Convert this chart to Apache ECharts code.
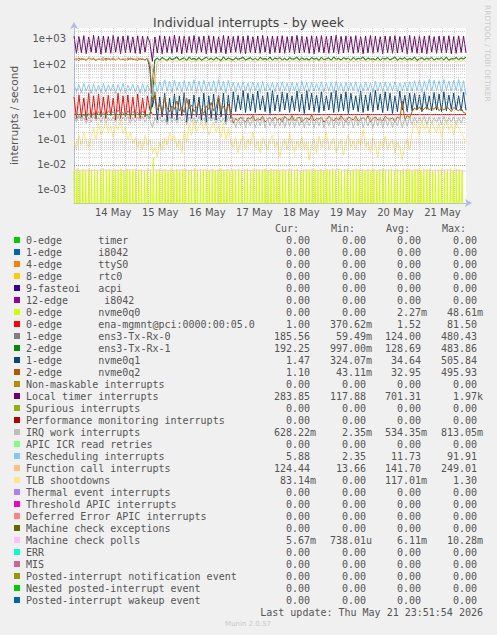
<!DOCTYPE html>
<html><head><meta charset="utf-8">
<script src="https://cdn.jsdelivr.net/npm/echarts@6/dist/echarts.min.js"></script>
<style>html,body{margin:0;padding:0;background:#f0f0f0;}#c{width:497px;height:635px;}</style>
</head><body><div id="c"></div><script>
// ---------- axis / tick data ----------
const startHour = 16;   // hours since 13 May 00:00 (left edge 13 May 16:00)
const endHour = 216;    // 22 May 00:00
const xTickHours = [36, 60, 84, 108, 132, 156, 180, 204];
const xTickLabels = ['14 May', '15 May', '16 May', '17 May', '18 May', '19 May', '20 May', '21 May'];
const yTickValues = [1e-3, 1e-2, 1e-1, 1, 10, 100, 1000];
const yTickLabels = ['1e-03', '1e-02', '1e-01', '1e+00', '1e+01', '1e+02', '1e+03'];
const yMin = 3.044e-4, yMax = 2735;
const dayLineHours = [24, 48, 72, 96, 120, 144, 168, 192];
const quarterLineHours = [18, 30, 36, 42, 54, 60, 66, 78, 84, 90, 102, 108, 114, 126, 132, 138, 150, 156, 162, 174, 180, 186, 198, 204, 210];

// ---------- series values (step 1.25 h unless noted) ----------
const localTimer = [
1300,270,1250,290,1350,260,1200,300,1400,280,1280,250,1320,290,1260,270,
1380,300,1240,260,1300,280,1350,290,1220,270,1330,260,1290,300,1250,700,
130,
1200,280,1350,260,1300,290,1250,270,1400,300,1280,260,1330,280,1260,290,
1370,270,1240,300,1310,260,1350,280,1290,270,1220,290,1380,260,1300,280,
1250,300,1340,270,1280,260,1360,290,1230,280,1310,270,1390,300,1260,260,
1320,290,1270,280,1350,270,1240,300,1300,260,1380,280,1290,290,1230,270,
1340,260,1280,300,1360,280,1250,270,1310,290,1400,260,1270,280,1330,300,
1260,270,1350,290,1240,260,1300,280,1370,270,1290,300,1230,260,1320,290,
1280,270,1350,280,1250,300,1310,260,1390,290,1270,270,1340,280,1300,260,
1360,300,1240,270,1320,290,1290,280,1350,260,1260,270,1330,290,1300,284];

const functionCall = [
170,140,185,150,175,135,190,145,180,140,170,150,185,135,175,145,
190,140,180,150,170,135,185,145,175,140,190,150,180,135,170,120,
60,
17,125,140,120,150,130,145,118,138,128,152,122,140,132,148,120,
135,126,150,124,142,130,146,118,138,128,154,122,140,132,144,126,
136,120,148,130,142,124,150,128,138,118,146,132,140,126,152,122,
136,130,144,120,148,128,140,124,150,132,138,118,146,126,142,130,
136,122,150,128,140,120,146,132,138,126,152,124,142,130,136,118,
148,128,140,122,146,130,138,126,150,120,144,132,136,124,148,128,
140,122,146,130,138,118,150,126,142,132,136,124,148,120,140,128,
146,130,138,122,152,126,142,120,136,130,148,124,140,128,146,124];

const ens3Rx1 = [
1,1,1,1,1,1,1,1,1,1,1,1,1,1,1,1,
1,1,1,1,1,1,1,1,1,1,1,1,1,1,1,1,
3,
150,175,145,190,160,140,185,155,170,200,148,165,180,142,195,158,
172,150,188,145,168,192,155,176,146,185,162,140,198,152,178,160,
145,182,158,170,195,148,165,186,150,175,142,190,160,168,152,196,
144,178,162,185,150,172,140,188,158,166,194,146,180,155,170,148,
186,160,175,142,192,152,168,180,145,196,158,170,148,184,162,176,
140,190,155,172,165,198,146,180,158,168,150,188,142,176,162,185,
150,170,194,145,178,160,186,148,172,155,198,142,168,182,152,176,
160,190,146,174,158,185,150,196,144,170,162,188,155,178,165,192];

const ens3Rx0 = [
0.8,0.65,0.9,0.7,1.0,0.75,1.1,0.8,1.2,0.9,1.3,1.0,1.2,0.9,1.4,1.1,
1.3,1.0,1.5,1.1,1.2,0.9,1.4,1.0,1.3,1.1,1.2,0.95,1.4,1.0,0.9,0.7,
25,
148,165,142,172,155,138,168,150,160,178,145,158,170,140,180,152,
162,146,175,142,160,182,150,166,144,176,155,138,184,148,170,156,
142,175,152,164,180,145,158,172,146,168,140,178,154,162,148,182,
142,170,156,174,146,164,138,176,152,160,180,144,172,150,164,144,
174,154,166,140,180,148,160,170,142,182,152,164,146,172,156,168,
138,178,150,164,158,184,142,170,152,160,146,176,140,166,156,172,
146,162,180,142,168,154,174,146,164,150,182,140,160,170,148,166,
154,176,142,164,152,172,146,180,140,162,156,174,150,168,158,186];

const nvme0q1 = [
160,145,175,150,165,140,180,155,170,145,160,150,185,140,170,155,
165,145,178,150,162,140,175,155,168,148,180,150,165,145,170,60,
2,
6,0.6,5,0.8,7,0.5,4.5,0.7,6.5,0.6,5.5,0.9,7.5,0.5,4,0.7,6,0.8,5,0.6,
7,0.5,5.5,0.7,6.5,0.6,4.5,0.8,7,0.5,6,0.7,
8,1.3,6,1.5,9,1.2,7,1.4,6.5,1.2,8.5,1.5,5.5,1.3,7.5,1.1,9,1.4,6,1.3,
8,1.5,7,1.2,5.5,1.4,8.5,1.3,6.5,1.1,9,1.5,7,1.3,6,1.2,8,1.4,5.5,1.5,
7.5,1.2,9,1.3,6.5,1.4,8,1.1,7,1.5,5.5,1.3,8.5,1.2,6,1.4,7.5,1.3,9,1.5,
6.5,1.2,8,1.4,7,1.1,5.5,1.3,8.5,1.5,6,1.3,7,
1.4,7,1.5,6,1.3,8,1.6,5.5,1.4,7.5,1.5,6.5,1.3,8,1.4,6,1.6,7,1.5,5.5,1.4,7.5,1.47];

const nvme0q2 = [
150,165,140,170,155,145,175,150,160,140,168,152,145,172,158,148,
165,142,170,155,150,162,145,175,152,160,140,168,155,148,165,100,
3,
8,1.5,2.5,1.2,5,1.8,1.3,2.2,1.6,3.5,1.4,2.0,1.2,4.5,1.7,2.4,1.3,1.9,2.8,1.5,
1.1,2.2,1.6,3.0,1.4,1.8,6,1.5,2.1,1.3,2.6,1.2,
0.45,0.7,0.55,0.8,0.6,0.5,0.75,0.65,0.9,0.55,0.7,0.6,0.85,0.5,0.65,0.75,0.55,0.8,0.6,0.7,
0.5,0.85,0.65,0.6,0.9,0.55,0.7,0.8,0.5,0.65,0.75,0.6,0.95,0.55,0.7,0.65,0.8,0.5,0.6,0.85,
0.7,0.55,0.75,0.6,0.9,0.65,0.5,0.8,0.7,0.6,0.85,0.55,0.65,0.75,0.6,0.9,0.5,0.7,0.8,0.6,
0.65,0.55,0.85,0.7,0.6,0.75,0.5,0.8,0.65,3.5,0.6,0.9,0.75,
1.3,1.8,1.5,2.0,1.4,1.7,2.1,1.5,1.9,1.6,2.2,1.4,1.8,1.5,2.0,1.7,1.3,1.9,1.6,1.4,1.8,1.2,1.1];

const enaMgmnt = [
5,0.7,6,0.8,4.5,0.6,7,0.75,5.5,0.65,6.5,0.8,5,0.7,6,0.9,4.5,0.6,7,0.7,
5.5,0.8,6,0.65,5,0.75,6.5,0.7,4.5,0.8,5.5,1.5,
1,
1,1,1,1,1,1,1,1,1,1,1,1,1,1,1,1,1,1,1,1,1,1,1,1,1,1,1,1,1,1,1,1,
1,1,1,1,1,1,1,1,1,1,1,1,1,1,1,1,1,1,1,1,1,1,1,1,1,1,1,1,1,1,1,1,
1,1,1,1,1,1,1,1,1,1,1,1,1,1,1,1,1,1,1,1,1,1,1,1,1,1,1,1,1,1,1,1,
1,1,1,1,1,1,1,1,1,1,1,1,1,1,1,1,1,1,1,1,1,1,1,1,1,1,1,1,1,1,1,1];

const rescheduling = [
16,8,15,7.5,17,8.5,15.5,7,16.5,8,14.5,7.5,17,8,15,8.5,
16,7,15.5,8,17,7.5,14.5,8.5,16,8,15,7,16.5,8,15,9,
5,
22,8,20,9,24,8.5,21,7.5,23,9,19.5,8,22.5,8.5,20,9,24,7.5,21.5,8,
23,9,20,8.5,22,8,24.5,9,21,7.5,23,8.5,
19,8,18,9,20,8.5,17.5,8,19.5,9,18,7.5,20.5,8.5,17,9,19,8,18.5,8.5,
20,9,17.5,8,19,8.5,18,7.5,21,9,18.5,8,19.5,8.5,17,9,20,8,18,8.5,
19,7.5,20.5,9,17.5,8,19,8.5,18.5,9,20,8,17,8.5,19.5,9,18,7.5,21,8.5,
18.5,8,19,9,17.5,8.5,20,8,18,9,19.5,8.5,20,
8.5,22,9,24,8,21,9.5,25,8.5,23,9,22,8,24.5,9,21.5,8.5,23,9,25,8,22,5.88];

const irqWork = [
0.8,0.5,0.85,0.55,0.75,0.45,0.8,0.5,0.9,0.55,0.8,0.5,0.85,0.45,0.75,0.55,
0.8,0.5,0.9,0.5,0.8,0.55,0.85,0.45,0.75,0.5,0.8,0.55,0.85,0.5,0.8,0.6,
0.3,
0.75,0.45,0.8,0.5,0.7,0.4,0.85,0.5,0.75,0.45,0.8,0.55,0.7,0.4,0.8,0.5,
0.75,0.45,0.85,0.5,0.7,0.4,0.8,0.55,0.75,0.45,0.8,0.5,0.7,0.4,0.85,0.5,
0.75,0.3,0.7,0.35,0.8,0.3,0.65,0.35,0.75,0.3,0.7,0.35,0.8,0.3,0.7,0.35,0.75,0.3,0.65,0.35,
0.8,0.3,0.7,0.35,0.75,0.3,0.7,0.35,0.8,0.3,0.65,0.35,0.75,0.3,0.7,0.35,0.8,0.3,0.7,0.35,
0.75,0.3,0.65,0.35,0.8,0.3,0.7,0.35,0.75,0.3,0.7,0.35,0.8,0.3,0.65,0.35,0.75,0.3,0.7,0.35,
0.8,0.3,0.7,0.35,0.75,0.3,0.65,0.35,0.8,0.3,0.7,0.35,0.75,
0.4,0.8,0.45,0.75,0.5,0.85,0.4,0.8,0.45,0.75,0.5,0.8,0.4,0.85,0.45,0.75,0.5,0.8,0.4,0.75,0.45,0.8,0.63];

const tlbShootdowns = [
0.1,0.04,0.15,0.06,0.2,0.08,0.05,0.12,0.3,0.1,0.45,0.15,0.25,0.5,0.2,0.35,
0.12,0.4,0.25,0.6,0.18,0.3,0.1,0.2,0.07,0.12,0.05,0.09,0.04,0.15,0.06,0.1,
0.03,
0.05,0.02,0.08,0.04,0.12,0.06,0.2,0.09,0.15,0.05,0.1,0.03,0.25,0.08,0.4,0.15,
0.6,0.2,0.35,0.5,0.25,0.45,0.15,0.3,0.5,0.2,0.35,0.12,0.45,0.1,0.3,0.08,
0.05,0.12,0.03,0.08,0.15,0.04,0.1,0.06,0.2,0.05,0.09,0.03,0.12,0.07,0.04,0.1,0.15,0.05,0.08,0.02,
0.06,0.11,0.04,0.18,0.07,0.03,0.09,0.05,0.13,0.04,0.08,0.015,0.06,0.1,0.03,0.14,0.05,0.09,0.2,0.04,
0.07,0.12,0.03,0.06,0.1,0.025,0.08,0.16,0.05,0.09,0.04,0.11,0.06,0.25,0.05,0.08,0.03,0.12,0.06,0.02,
0.09,0.05,0.14,0.04,0.07,0.1,0.03,0.08,0.05,0.015,0.06,0.1,0.04,
0.2,0.5,0.3,0.15,0.6,0.25,0.4,0.18,0.55,0.3,0.2,0.45,0.12,0.35,0.6,0.25,0.4,0.15,0.5,0.3,0.2,0.12,0.08];

// values in milli-interrupts/s, step 5 h
const machineCheckPollsMilli = [
6.0,6.2,5.9,6.3,6.1,6.0,6.4,5.8,6.2,6.1,6.0,6.3,5.9,6.2,6.1,6.0,6.3,6.1,5.9,6.2,
6.0,6.1,6.3,5.8,6.2,6.0,6.1,6.4,5.9,6.2,6.0,6.1,6.3,5.9,6.2,6.0,6.1,5.8,6.2,6.0,5.67];

// values in milli-interrupts/s, step 0.75 h
const nvme0q0Milli = [
6.5,0,7,0,6,0,6.8,0,6.2,0, 7,0,6.4,0,6.9,0,6.1,0,6.6,0, 7.1,0,6.3,0,6.8,0,6,0,6.7,0,
6.4,0,7,0,6.2,0,6.9,0,6.5,0, 6.1,0,6.8,0,6.4,0,6.6,0,6.3,0, 7,0,6.5,0,19,0,6.2,0,6.9,0,
6.4,0,6.7,0,6.1,0,7,0,6.3,0, 6.8,0,6.2,0,6.6,0,6.9,0,6,0, 6.5,0,7.1,0,6.3,0,6.8,0,6.4,0,
6.7,0,6.1,0,6.9,0,6.2,0,6.6,0, 7,0,6.4,0,6.8,0,6,0,6.5,0, 6.3,0,6.9,0,6.1,0,6.7,0,7,0,
6.2,0,6.6,0,6.8,0,6.4,0,6.1,0, 6.9,0,6.3,0,7.1,0,6.5,0,6.7,0, 6,0,6.8,0,6.2,0,6.6,0,7,0,
6.4,0,6.9,0,6.1,0,6.5,0,6.8,0, 6.3,0,7,0,6.6,0,6.2,0,6.9,0, 6.1,0,6.7,0,6.4,0,7.1,0,6.3,0,
6.8,0,6,0,6.6,0,6.9,0,6.2,0, 6.5,0,7,0,6.3,0,6.7,0,6.1,0, 6.9,0,6.4,0,6.8,0,6,0,6.6,0,
7,0,6.2,0,6.5,0,6.9,0,6.3,0, 6.7,0,6.1,0,7.1,0,6.4,0,6.8,0, 6.2,0,6.6,0,6.9,0,6.3,0,7,0,
6.5,0,6.8,0,6.1,0,6.7,0,6.4,0, 6.9,0,6.3,0,6.6,0,7,0,6.2,0, 6.8,0,6.5,0,6.1,0,0];

// ---------- legend data ----------
const legendLabels = [
'0-edge      timer','1-edge      i8042','4-edge      ttyS0','8-edge      rtc0','9-fasteoi   acpi',
'12-edge      i8042','0-edge      nvme0q0','0-edge      ena-mgmnt@pci:0000:00:05.0','1-edge      ens3-Tx-Rx-0',
'2-edge      ens3-Tx-Rx-1','1-edge      nvme0q1','2-edge      nvme0q2','Non-maskable interrupts',
'Local timer interrupts','Spurious interrupts','Performance monitoring interrupts','IRQ work interrupts',
'APIC ICR read retries','Rescheduling interrupts','Function call interrupts','TLB shootdowns',
'Thermal event interrupts','Threshold APIC interrupts','Deferred Error APIC interrupts',
'Machine check exceptions','Machine check polls','ERR','MIS','Posted-interrupt notification event',
'Nested posted-interrupt event','Posted-interrupt wakeup event'];
const legendColors = [
'#00CC00','#0066B3','#FF8000','#FFCC00','#330099','#990099','#CCFF00','#FF0000','#808080','#008F00',
'#00487D','#B35A00','#B38F00','#6B006B','#8FB300','#B30000','#BEBEBE','#80FF80','#80C9FF','#FFC080',
'#FFE680','#AA80FF','#EE00CC','#FF8080','#666600','#FFBFFF','#00FFCC','#CC6699','#999900','#00CC00','#0066B3'];
const curVals = ['0.00','0.00','0.00','0.00','0.00','0.00','0.00','1.00','185.56','192.25','1.47','1.10','0.00',
'283.85','0.00','0.00','628.22m','0.00','5.88','124.44','83.14m','0.00','0.00','0.00','0.00','5.67m','0.00','0.00','0.00','0.00','0.00'];
const minVals = ['0.00','0.00','0.00','0.00','0.00','0.00','0.00','370.62m','59.49m','997.00m','324.07m','43.11m','0.00',
'117.88','0.00','0.00','2.35m','0.00','2.35','13.66','0.00','0.00','0.00','0.00','0.00','738.01u','0.00','0.00','0.00','0.00','0.00'];
const avgVals = ['0.00','0.00','0.00','0.00','0.00','0.00','2.27m','1.52','124.00','128.69','34.64','32.95','0.00',
'701.31','0.00','0.00','534.35m','0.00','11.73','141.70','117.01m','0.00','0.00','0.00','0.00','6.11m','0.00','0.00','0.00','0.00','0.00'];
const maxVals = ['0.00','0.00','0.00','0.00','0.00','0.00','48.61m','81.50','480.43','483.86','505.84','495.93','0.00',
'1.97k','0.00','0.00','813.05m','0.00','91.91','249.01','1.30','0.00','0.00','0.00','0.00','10.28m','0.00','0.00','0.00','0.00','0.00'];
const columnHeaders = ['Cur:', 'Min:', 'Avg:', 'Max:'];
const lastUpdate = 'Last update: Thu May 21 23:51:54 2026';

// ---------- build ----------
const FLOOR = 1e-7; // zero has no place on a log axis: draw it below the floor
function pts(vals, step, unit) {
  return vals.map((v, i) => [startHour + i * step, v > 0 ? v * unit : FLOOR]);
}
const plotted = [
  { idx: 6, vals: nvme0q0Milli, step: 0.75, unit: 1e-3 },
  { idx: 7, vals: enaMgmnt, step: 1.25, unit: 1 },
  { idx: 8, vals: ens3Rx0, step: 1.25, unit: 1 },
  { idx: 9, vals: ens3Rx1, step: 1.25, unit: 1 },
  { idx: 10, vals: nvme0q1, step: 1.25, unit: 1 },
  { idx: 11, vals: nvme0q2, step: 1.25, unit: 1 },
  { idx: 13, vals: localTimer, step: 1.25, unit: 1 },
  { idx: 16, vals: irqWork, step: 1.25, unit: 1 },
  { idx: 18, vals: rescheduling, step: 1.25, unit: 1 },
  { idx: 19, vals: functionCall, step: 1.25, unit: 1 },
  { idx: 20, vals: tlbShootdowns, step: 1.25, unit: 1 },
  { idx: 25, vals: machineCheckPollsMilli, step: 5, unit: 1e-3 }
];

const minorStyle = { color: 'rgba(150,150,150,0.42)', width: 1, type: [1, 1] };
const majorStyle = { color: 'rgba(235,140,140,0.5)', width: 1, type: [1, 1] };
const gridLines = [];
for (let n = -4; n <= 3; n++) {
  for (let k = 2; k <= 9; k++) {
    const v = k * Math.pow(10, n);
    if (v > yMin && v < yMax) gridLines.push({ yAxis: v, lineStyle: minorStyle });
  }
}
yTickValues.forEach(v => gridLines.push({ yAxis: v, lineStyle: majorStyle }));
quarterLineHours.forEach(h => gridLines.push({ xAxis: h, lineStyle: minorStyle }));
dayLineHours.forEach(h => gridLines.push({ xAxis: h, lineStyle: majorStyle }));

const series = [{
  type: 'line', data: [], z: 1, silent: true,
  markLine: { silent: true, symbol: ['none', 'none'], label: { show: false }, animation: false, data: gridLines }
}];
plotted.forEach(p => {
  series.push({
    type: 'line', name: legendLabels[p.idx], data: pts(p.vals, p.step, p.unit), z: 2,
    showSymbol: false, symbol: 'none', silent: true, clip: true,
    lineStyle: { color: legendColors[p.idx], width: 1 }, itemStyle: { color: legendColors[p.idx] }
  });
});

const TXT = '#555';
const graphic = [];
const rowY0 = 240, rowH = 12;
const colRight = [310, 366, 421, 477];
const mono = 'DejaVu Sans Mono';
columnHeaders.forEach((h, c) => graphic.push({ type: 'text', x: colRight[c] - 11, y: rowY0 - rowH,
  style: { text: h, fill: TXT, fontFamily: mono, fontSize: 10, align: 'right', verticalAlign: 'middle' } }));
function cell(str, c, y) {
  const m = str.match(/^([\d.]+)([a-zA-Z]?)$/);
  graphic.push({ type: 'text', x: colRight[c], y: y,
    style: { text: m[1], fill: TXT, fontFamily: mono, fontSize: 10, align: 'right', verticalAlign: 'middle' } });
  if (m[2]) graphic.push({ type: 'text', x: colRight[c], y: y,
    style: { text: m[2], fill: TXT, fontFamily: mono, fontSize: 10, align: 'left', verticalAlign: 'middle' } });
}
legendLabels.forEach((lab, i) => {
  const y = rowY0 + i * rowH;
  graphic.push({ type: 'rect', shape: { x: 14, y: y - 3, width: 6, height: 6 }, style: { fill: legendColors[i] } });
  graphic.push({ type: 'text', x: 26, y: y,
    style: { text: lab, fill: TXT, fontFamily: mono, fontSize: 10, align: 'left', verticalAlign: 'middle' } });
  cell(curVals[i], 0, y); cell(minVals[i], 1, y); cell(avgVals[i], 2, y); cell(maxVals[i], 3, y);
});
graphic.push({ type: 'text', x: 483, y: rowY0 + legendLabels.length * rowH,
  style: { text: lastUpdate, fill: TXT, fontFamily: mono, fontSize: 10, align: 'right', verticalAlign: 'middle' } });
graphic.push({ type: 'text', x: 248, y: 624,
  style: { text: 'Munin 2.0.57', fill: '#c8c8c8', fontFamily: 'DejaVu Sans', fontSize: 7, align: 'center', verticalAlign: 'middle' } });
graphic.push({ type: 'text', x: 487, y: 5, rotation: -Math.PI / 2,
  style: { text: 'RRDTOOL / TOBI OETIKER', fill: '#cccccc', fontFamily: 'DejaVu Sans', fontSize: 7.5, align: 'left', verticalAlign: 'middle' } });

const axisColor = '#b0bbe8';
const chart = echarts.init(document.getElementById('c'), null, { renderer: 'svg', width: 497, height: 635 });
chart.setOption({
  backgroundColor: '#f0f0f0',
  animation: false,
  title: { text: 'Individual interrupts - by week', left: 'center', top: 11,
    textStyle: { fontFamily: 'DejaVu Sans', fontSize: 12.5, fontWeight: 'normal', color: '#444' } },
  grid: { left: 67, right: 31, top: 28, bottom: 432, show: true, backgroundColor: '#ffffff', borderWidth: 0, containLabel: false },
  xAxis: {
    type: 'value', min: startHour, max: endHour,
    axisLine: { show: true, onZero: false, lineStyle: { color: axisColor, width: 1 }, symbol: ['none', 'arrow'], symbolSize: [6, 7], symbolOffset: [0, 6] },
    axisTick: { show: false }, splitLine: { show: false },
    axisLabel: { customValues: xTickHours, margin: 4, color: TXT, fontFamily: 'DejaVu Sans', fontSize: 10,
      formatter: v => { const i = xTickHours.indexOf(Math.round(v)); return i >= 0 ? xTickLabels[i] : ''; } }
  },
  yAxis: {
    type: 'log', logBase: 10, min: yMin, max: yMax, splitNumber: 7,
    name: 'interrupts / second', nameLocation: 'middle', nameGap: 55,
    nameTextStyle: { color: TXT, fontFamily: 'DejaVu Sans', fontSize: 10.5 },
    axisLine: { show: true, lineStyle: { color: axisColor, width: 1 }, symbol: ['none', 'arrow'], symbolSize: [6, 7], symbolOffset: [0, 6] },
    axisTick: { show: false }, splitLine: { show: false }, minorSplitLine: { show: false },
    axisLabel: { margin: 8, color: TXT, fontFamily: 'DejaVu Sans', fontSize: 10,
      formatter: v => { for (let i = 0; i < yTickValues.length; i++) { if (Math.abs(v / yTickValues[i] - 1) < 1e-6) return yTickLabels[i]; } return ''; } }
  },
  graphic: graphic,
  series: series
});
</script></body></html>
